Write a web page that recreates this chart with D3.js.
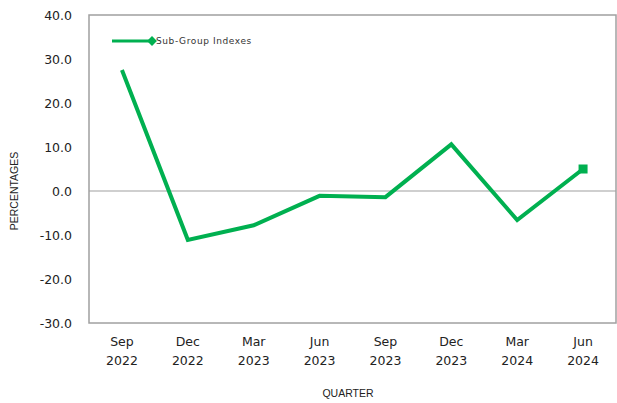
<!DOCTYPE html>
<html>
<head>
    <meta charset="utf-8">
    <title>Sub-Group Indexes</title>
    <style>
        body { margin: 0; background: #fff; }
        svg { display: block; }
        .tick text { font-family: "DejaVu Sans", Verdana, sans-serif; font-size: 12.5px; fill: #222; }
    </style>
    <script src="https://cdnjs.cloudflare.com/ajax/libs/d3/7.8.5/d3.min.js"></script>
</head>
<body>
    <script>
        const months = ["Sep", "Dec", "Mar", "Jun", "Sep", "Dec", "Mar", "Jun"]
        const years = ["2022", "2022", "2023", "2023", "2023", "2023", "2024", "2024"]
        const values = [27.5, -11.1, -7.8, -1.1, -1.4, 10.6, -6.6, 5.0]
        const yTicks = [-30, -20, -10, 0, 10, 20, 30, 40]
        const seriesName = "Sub-Group Indexes"

        const width = 617
        const height = 403
        const plotLeft = 89, plotRight = 616, plotTop = 15, plotBottom = 323
        const green = "#00B050"

        let svg = d3.select("body").append("svg")
            .attr("width", width)
            .attr("height", height)

        let cats = d3.range(values.length)
        let x_scale = d3.scaleBand()
            .domain(cats)
            .range([plotLeft, plotRight])
        let y_scale = d3.scaleLinear()
            .domain([-30, 40])
            .range([plotBottom, plotTop])

        // plot frame
        svg.append("rect")
            .attr("x", plotLeft)
            .attr("y", plotTop)
            .attr("width", plotRight - plotLeft)
            .attr("height", plotBottom - plotTop)
            .attr("fill", "none")
            .attr("stroke", "#a0a0a0")
            .attr("stroke-width", 1.5)

        // zero line
        svg.append("line")
            .attr("x1", plotLeft)
            .attr("x2", plotRight)
            .attr("y1", y_scale(0))
            .attr("y2", y_scale(0))
            .attr("stroke", "#a0a0a0")
            .attr("stroke-width", 1.2)

        let y_axis = svg.append("g")
            .attr("transform", `translate(${plotLeft}, 0)`)
            .call(d3.axisLeft(y_scale).tickValues(yTicks).tickFormat(d => d.toFixed(1)).tickSize(0).tickPadding(17))
        y_axis.select(".domain").remove()

        let x_axis = svg.append("g")
            .attr("transform", `translate(0, ${plotBottom})`)
            .call(d3.axisBottom(x_scale).tickSize(0).tickFormat(""))
        x_axis.select(".domain").remove()
        x_axis.selectAll(".tick").each(function(d) {
            let t = d3.select(this).select("text")
                .attr("y", 0)
                .attr("dy", null)
            t.append("tspan").attr("x", 0).attr("y", 23).text(months[d])
            t.append("tspan").attr("x", 0).attr("y", 42).text(years[d])
        })

        let cx = i => x_scale(i) + x_scale.bandwidth() / 2

        let line = d3.line()
            .x((d, i) => cx(i))
            .y(d => y_scale(d))

        svg.append("path")
            .datum(values)
            .attr("d", line)
            .attr("fill", "none")
            .attr("stroke", green)
            .attr("stroke-width", 4)
            .attr("stroke-linejoin", "miter")

        // marker on the last point
        let last = values.length - 1
        svg.append("rect")
            .attr("x", cx(last) - 4.5)
            .attr("y", y_scale(values[last]) - 4.5)
            .attr("width", 9)
            .attr("height", 9)
            .attr("fill", green)

        // legend
        svg.append("line")
            .attr("x1", 112).attr("x2", 152)
            .attr("y1", 41).attr("y2", 41)
            .attr("stroke", green)
            .attr("stroke-width", 3)
        svg.append("rect")
            .attr("x", -3.5).attr("y", -3.5)
            .attr("width", 7).attr("height", 7)
            .attr("transform", "translate(152, 41) rotate(45)")
            .attr("fill", green)
        svg.append("text")
            .attr("x", 156)
            .attr("y", 44)
            .attr("font-family", "DejaVu Sans, sans-serif")
            .attr("font-size", 9)
            .attr("letter-spacing", 0.6)
            .attr("fill", "#333")
            .text(seriesName)

        // axis titles
        svg.append("text")
            .attr("transform", `translate(18, ${y_scale(0)}) rotate(-90)`)
            .attr("text-anchor", "middle")
            .attr("font-family", "Liberation Sans, Arial, sans-serif")
            .attr("font-size", 10.5)
            .attr("fill", "#222")
            .text("PERCENTAGES")
        svg.append("text")
            .attr("x", 348)
            .attr("y", 397)
            .attr("text-anchor", "middle")
            .attr("font-family", "Liberation Sans, Arial, sans-serif")
            .attr("font-size", 10.5)
            .attr("fill", "#222")
            .text("QUARTER")
    </script>
</body>
</html>
